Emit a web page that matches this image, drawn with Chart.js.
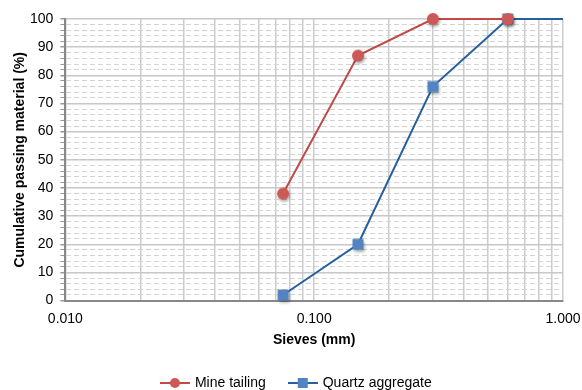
<!DOCTYPE html>
<html>
<head>
<meta charset="utf-8">
<script src="https://cdn.jsdelivr.net/npm/chart.js@4.4.1/dist/chart.umd.min.js"></script>
<style>
  html, body { margin: 0; padding: 0; background: #fff; }
  #wrap { width: 582px; height: 390px; }
</style>
</head>
<body>
<div id="wrap"><canvas id="gradChart"></canvas></div>
<script>
// sieve sizes (mm) and cumulative passing (%)
let mineSieves = [0.075, 0.15, 0.3, 0.6];
let minePassing = [38, 87, 100, 100];
let quartzSieves = [0.075, 0.15, 0.3, 0.6, 1.18];
let quartzPassing = [2, 20, 76, 100, 100];

let seriesNames = ['Mine tailing', 'Quartz aggregate'];
let xTickValues = [0.01, 0.02, 0.03, 0.04, 0.05, 0.06, 0.07, 0.08, 0.09,
                   0.1, 0.2, 0.3, 0.4, 0.5, 0.6, 0.7, 0.8, 0.9, 1];
let xLabelValues = [0.01, 0.1, 1];

let redLine = '#BE4B48', redDot = '#CC5955';
let blueLine = '#2760A0', blueDot = '#5384C2';

function toPoints(xs, ys) {
    return xs.map((x, i) => ({ x: x, y: ys[i] }));
}

// marker with a soft drop shadow, like the office chart
function markerImg(col, square) {
    let c = document.createElement('canvas');
    c.width = 22; c.height = 22;
    let g = c.getContext('2d');
    g.shadowColor = 'rgba(0,0,0,0.35)';
    g.shadowBlur = 3;
    g.shadowOffsetX = 1;
    g.shadowOffsetY = 2;
    g.fillStyle = col;
    if (square) {
        g.fillRect(5.5, 5.5, 11, 11);
    } else {
        g.beginPath(); g.arc(11, 11, 6, 0, Math.PI * 2); g.fill();
    }
    return c;
}

// little line + marker icons for the legend
function legendIcon(lineCol, dotCol, square) {
    let c = document.createElement('canvas');
    c.width = 30; c.height = 12;
    let g = c.getContext('2d');
    g.strokeStyle = lineCol; g.lineWidth = 2;
    g.beginPath(); g.moveTo(0, 6); g.lineTo(30, 6); g.stroke();
    g.fillStyle = dotCol;
    if (square) {
        g.fillRect(10, 1, 10, 10);
    } else {
        g.beginPath(); g.arc(15, 6, 5, 0, Math.PI * 2); g.fill();
    }
    return c;
}
let icons = [legendIcon(redLine, redDot, false), legendIcon(blueLine, blueDot, true)];

let font = { family: 'Liberation Sans, Arial, sans-serif', size: 14 };
let boldFont = { family: 'Liberation Sans, Arial, sans-serif', size: 14, weight: 'bold' };

let ctx = document.getElementById('gradChart').getContext('2d');
let gradChart = new Chart(ctx, {
    type: 'line',
    data: {
        datasets: [{
            label: seriesNames[0],
            data: toPoints(mineSieves, minePassing),
            borderColor: redLine,
            backgroundColor: redDot,
            borderWidth: 2,
            pointStyle: markerImg(redDot, false),
            pointRadius: 6,
            pointHoverRadius: 6,
            clip: { left: 12, top: 12, right: 0, bottom: 12 }
        }, {
            label: seriesNames[1],
            data: toPoints(quartzSieves, quartzPassing),
            borderColor: blueLine,
            backgroundColor: blueDot,
            borderWidth: 2,
            pointStyle: markerImg(blueDot, true),
            pointRadius: 7.5,
            pointHoverRadius: 7.5,
            clip: { left: 12, top: 12, right: 0, bottom: 12 }
        }]
    },
    options: {
        responsive: true,
        maintainAspectRatio: false,
        animation: false,
        layout: { padding: { top: 19, right: 0, left: 11.6, bottom: -10 } },
        scales: {
            x: {
                type: 'logarithmic',
                min: 0.01,
                max: 1,
                afterBuildTicks: (scale) => {
                    scale.ticks = xTickValues.map(v => ({ value: v }));
                },
                ticks: {
                    autoSkip: false,
                    maxRotation: 0,
                    padding: 1.5,
                    color: '#000',
                    font: font,
                    callback: (value) => {
                        let hit = xLabelValues.some(v => Math.abs(v - value) < 1e-9);
                        return hit ? value.toFixed(3) : '';
                    }
                },
                grid: {
                    color: '#cccccc',
                    lineWidth: 1.5,
                    tickLength: 9,
                    tickColor: 'rgba(0,0,0,0)'
                },
                border: { color: '#888888', width: 2 },
                title: {
                    display: true,
                    text: 'Sieves (mm)',
                    color: '#000',
                    font: boldFont,
                    padding: { top: 2.8, bottom: 3 }
                }
            },
            y: {
                min: 0,
                max: 100,
                ticks: {
                    stepSize: 2,
                    autoSkip: false,
                    padding: 7,
                    color: '#000',
                    font: font,
                    callback: (value) => value % 10 === 0 ? value : ''
                },
                grid: {
                    color: (c) => (c.tick && c.tick.value % 10 === 0) ? '#c8c8c8' : '#d4d4d4',
                    lineWidth: (c) => (c.tick && c.tick.value % 10 === 0) ? 1.5 : 1,
                    tickColor: '#999999',
                    tickLength: 5
                },
                border: {
                    color: '#888888',
                    width: 2,
                    dash: (c) => (c.tick && c.tick.value % 10 !== 0) ? [5, 3] : []
                },
                title: {
                    display: true,
                    text: 'Cumulative passing material (%)',
                    color: '#000',
                    font: boldFont,
                    padding: { top: 0, bottom: -5.4 }
                }
            }
        },
        plugins: {
            legend: {
                position: 'bottom',
                labels: {
                    usePointStyle: true,
                    pointStyleWidth: 26,
                    color: '#000',
                    font: font,
                    padding: 24,
                    generateLabels: (chart) => {
                        return chart.data.datasets.map((ds, i) => ({
                            text: ds.label,
                            pointStyle: icons[i],
                            fillStyle: ds.backgroundColor,
                            strokeStyle: ds.borderColor,
                            lineWidth: 0,
                            hidden: false,
                            datasetIndex: i,
                            fontColor: '#000'
                        }));
                    }
                }
            },
            tooltip: { enabled: false }
        }
    }
});
</script>
</body>
</html>
